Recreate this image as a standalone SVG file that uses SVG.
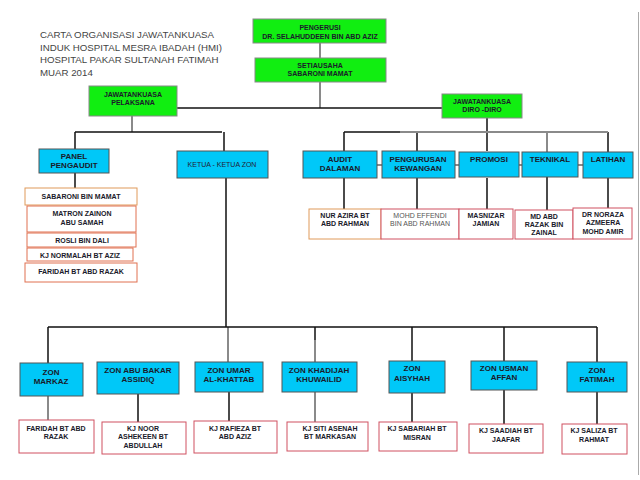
<svg xmlns="http://www.w3.org/2000/svg" width="640" height="480" viewBox="0 0 640 480">
<style>
.g{fill:#11ee11;stroke:#888;stroke-width:1}
.c{fill:#00c8f8;stroke:#555;stroke-width:1}
.m{fill:#fff;stroke:#d05060;stroke-width:1}
.o{fill:#fff;stroke:#e09a5a;stroke-width:1}
.t{font-family:"Liberation Sans",Arial,sans-serif;font-weight:bold;font-size:7px;fill:#1a1a2a;text-anchor:middle}
.tc{font-family:"Liberation Sans",Arial,sans-serif;font-weight:bold;font-size:8px;fill:#1a1a2a;text-anchor:middle}
.tl{font-family:"Liberation Sans",Arial,sans-serif;font-size:7px;fill:#555;text-anchor:middle}
.ttl{font-family:"Liberation Sans",Arial,sans-serif;font-size:9.7px;fill:#444}
.k{stroke:#111;stroke-width:1.5;fill:none}
.y{stroke:#8a8a8a;stroke-width:2;fill:none}
</style>
<rect width="640" height="480" fill="#fff"/>
<line x1="638.5" y1="12" x2="638.5" y2="475" stroke="#aaa" stroke-width="1"/>
<g id="title">
<text class="ttl" x="40" y="38">CARTA ORGANISASI JAWATANKUASA</text>
<text class="ttl" x="40" y="50.5">INDUK HOSPITAL MESRA IBADAH (HMI)</text>
<text class="ttl" x="40" y="63">HOSPITAL PAKAR SULTANAH FATIMAH</text>
<text class="ttl" x="40" y="75.5">MUAR 2014</text>
</g>
<g id="connectors">
<path class="y" d="M320 43V58M320 82V108"/>
<path class="k" d="M177 108H442"/>
<path class="y" d="M132 116V132"/>
<path class="k" d="M75 132H222M75 132V149M75 173V188M224 132V151M226 178V327"/>
<path class="y" d="M228 327V362"/>
<path class="k" d="M487 118V151M344 132H400M344 132V151M417 132V151M608 132V152"/>
<path class="y" d="M400 132H608M547 132V152M303 165H633"/>
<path class="k" d="M344 178V209M417 178V209M487 178V209M547 177V210M608 178V208"/>
<path class="k" d="M48 327H597M48 327V363M315 327V340M412 327V361M504 327V361M597 327V362"/>
<path class="y" d="M315 340V362M48 396V420M315 392V422"/>
<path class="k" d="M138 394V422M229 392V421M412 393V422M504 390V424M597 392V424"/>
</g>
<g id="pengerusi"><rect class="g" x="253" y="19" width="133" height="24"/><text class="t" x="320" y="29.5">PENGERUSI</text><text class="t" x="320" y="38.5">DR. SELAHUDDEEN BIN ABD AZIZ</text></g>
<g id="setiausaha"><rect class="g" x="255" y="58" width="131" height="24"/><text class="t" x="320" y="67.5">SETIAUSAHA</text><text class="t" x="320" y="76">SABARONI MAMAT</text></g>
<g id="pelaksana"><rect class="g" x="89" y="86" width="88" height="30"/><text class="t" x="133" y="96.5">JAWATANKUASA</text><text class="t" x="133" y="104.5">PELAKSANA</text></g>
<g id="diro"><rect class="g" x="442" y="94" width="80" height="24"/><text class="t" x="482" y="104">JAWATANKUASA</text><text class="t" x="482" y="112">DIRO -DIRO</text></g>
<g id="panel"><rect class="c" x="39" y="149" width="70" height="24"/><text class="tc" x="74" y="159">PANEL</text><text class="tc" x="74" y="168">PENGAUDIT</text></g>
<g id="ketua"><rect class="c" x="177" y="151" width="91" height="27"/><text class="tl" x="222" y="167" style="fill:#223">KETUA - KETUA  ZON</text></g>
<g id="p1"><rect class="o" x="25" y="188" width="112" height="17"/><text class="t" x="81" y="198.5">SABARONI BIN MAMAT</text></g>
<g id="p2"><rect class="m" x="27" y="206" width="109" height="26" style="stroke:#e07050"/><text class="t" x="82" y="216">MATRON ZAINON</text><text class="t" x="82" y="224.5">ABU SAMAH</text></g>
<g id="p3"><rect class="m" x="27" y="233" width="109" height="14" style="stroke:#e07050"/><text class="t" x="82" y="242.5">ROSLI BIN DALI</text></g>
<g id="p4"><rect class="m" x="27" y="248" width="106" height="13" style="stroke:#e07050"/><text class="t" x="80" y="257.5">KJ NORMALAH BT AZIZ</text></g>
<g id="p5"><rect class="m" x="25" y="263" width="112" height="19" style="stroke:#e07050"/><text class="t" x="81" y="274">FARIDAH BT ABD RAZAK</text></g>
<g id="audit"><rect class="c" x="303" y="151" width="74" height="27"/><text class="tc" x="340" y="161.5">AUDIT</text><text class="tc" x="340" y="170.5">DALAMAN</text></g>
<g id="kewangan"><rect class="c" x="382" y="151" width="73" height="27"/><text class="tc" x="418" y="161.5">PENGURUSAN</text><text class="tc" x="418" y="170.5">KEWANGAN</text></g>
<g id="promosi"><rect class="c" x="459" y="152" width="60" height="25"/><text class="tc" x="489" y="161.5">PROMOSI</text></g>
<g id="teknikal"><rect class="c" x="522" y="152" width="56" height="25"/><text class="tc" x="550" y="161.5">TEKNIKAL</text></g>
<g id="latihan"><rect class="c" x="583" y="152" width="50" height="26"/><text class="tc" x="608" y="161.5">LATIHAN</text></g>
<g id="b1"><rect class="o" x="309" y="209" width="72" height="30"/><text class="t" x="345" y="218">NUR AZIRA BT</text><text class="t" x="345" y="226">ABD RAHMAN</text></g>
<g id="b2"><rect class="m" x="381" y="209" width="78" height="30"/><text class="tl" x="420" y="218">MOHD EFFENDI</text><text class="tl" x="420" y="226">BIN ABD RAHMAN</text></g>
<g id="b3"><rect class="m" x="459" y="209" width="54" height="30"/><text class="t" x="486" y="218">MASNIZAR</text><text class="t" x="486" y="226">JAMIAN</text></g>
<g id="b4"><rect class="m" x="515" y="210" width="58" height="29"/><text class="t" x="544" y="219">MD ABD</text><text class="t" x="544" y="227">RAZAK BIN</text><text class="t" x="544" y="235">ZAINAL</text></g>
<g id="b5"><rect class="m" x="573" y="208" width="59" height="31"/><text class="t" x="603" y="217">DR NORAZA</text><text class="t" x="603" y="225">AZMEERA</text><text class="t" x="603" y="234">MOHD AMIR</text></g>
<g id="z1"><rect class="c" x="20" y="363" width="63" height="33"/><text class="tc" x="51" y="374.5">ZON</text><text class="tc" x="51" y="383.5">MARKAZ</text></g>
<g id="z2"><rect class="c" x="97" y="362" width="82" height="32"/><text class="tc" x="138" y="372.5">ZON ABU BAKAR</text><text class="tc" x="138" y="382">ASSIDIQ</text></g>
<g id="z3"><rect class="c" x="195" y="362" width="68" height="30"/><text class="tc" x="229" y="372.5">ZON UMAR</text><text class="tc" x="229" y="381.5">AL-KHATTAB</text></g>
<g id="z4"><rect class="c" x="282" y="362" width="75" height="30"/><text class="tc" x="319" y="372.5">ZON KHADIJAH</text><text class="tc" x="319" y="381.5">KHUWAILID</text></g>
<g id="z5"><rect class="c" x="389" y="361" width="56" height="32"/><text class="tc" x="412" y="371">ZON</text><text class="tc" x="412" y="380.5">AISYHAH</text></g>
<g id="z6"><rect class="c" x="471" y="361" width="66" height="29"/><text class="tc" x="504" y="371">ZON USMAN</text><text class="tc" x="504" y="380">AFFAN</text></g>
<g id="z7"><rect class="c" x="567" y="362" width="60" height="30"/><text class="tc" x="597" y="373">ZON</text><text class="tc" x="597" y="382">FATIMAH</text></g>
<g id="m1"><rect class="m" x="19" y="420" width="75" height="33"/><text class="t" x="56" y="430.5">FARIDAH BT ABD</text><text class="t" x="56" y="439">RAZAK</text></g>
<g id="m2"><rect class="m" x="102" y="422" width="84" height="32"/><text class="t" x="143" y="430.5">KJ NOOR</text><text class="t" x="143" y="439">ASHEKEEN  BT</text><text class="t" x="143" y="447.5">ABDULLAH</text></g>
<g id="m3"><rect class="m" x="194" y="421" width="83" height="32"/><text class="t" x="235" y="430.5">KJ RAFIEZA BT</text><text class="t" x="235" y="439">ABD AZIZ</text></g>
<g id="m4"><rect class="m" x="287" y="422" width="81" height="29"/><text class="t" x="330" y="430.5">KJ SITI  ASENAH</text><text class="t" x="330" y="439">BT MARKASAN</text></g>
<g id="m5"><rect class="m" x="379" y="422" width="78" height="29"/><text class="t" x="417" y="431">KJ SABARIAH BT</text><text class="t" x="417" y="440">MISRAN</text></g>
<g id="m6"><rect class="m" x="469" y="424" width="74" height="29"/><text class="t" x="506" y="433">KJ SAADIAH BT</text><text class="t" x="506" y="441.5">JAAFAR</text></g>
<g id="m7"><rect class="m" x="562" y="424" width="65" height="30"/><text class="t" x="594" y="433">KJ SALIZA BT</text><text class="t" x="594" y="441.5">RAHMAT</text></g>
</svg>
